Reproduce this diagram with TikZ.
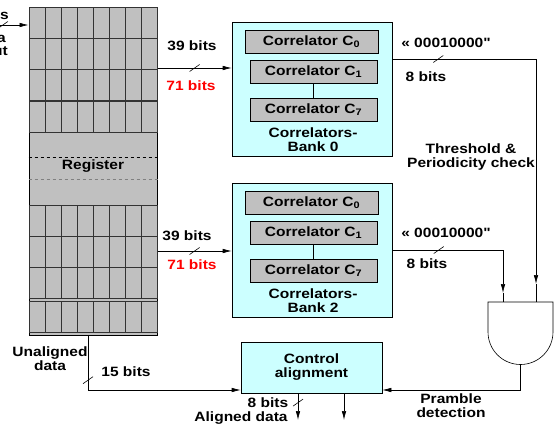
\documentclass[tikz,border=0pt]{standalone}
\usepackage{fontspec}
\setmainfont[FakeStretch=1.15]{Liberation Sans}
\newfontfamily\qfont[FakeStretch=1.15, Mapping=]{Liberation Sans}
\usetikzlibrary{arrows.meta}
\definecolor{cellgray}{HTML}{C0C0C0}
\definecolor{bankcyan}{HTML}{CCFFFF}
\tikzset{lbl/.style = {font=\bfseries\fontsize{13.5}{14}\selectfont, inner sep=0pt, align=center},
    rlbl/.style = {lbl, text=red},
    cell/.style = {draw=black!80, fill=cellgray, line width=0.9pt},
    bank/.style = {draw, fill=bankcyan, minimum width=160, minimum height=134, inner sep=0pt},
    corr/.style = {lbl, draw, fill=cellgray, minimum width=127, minimum height=23},
    bus/.pic = {\draw[-] (-5pt,-3.5pt) -- (5pt,3.5pt);}}

\begin{document}
\begin{tikzpicture}[x=1pt, y=-1pt, >={Latex[length=9pt,width=4.5pt]}, semithick]
        \useasboundingbox (0,0) rectangle (556,426);
        \node[draw, fill=cellgray, minimum width=128, minimum height=328, inner sep=0pt, line width=1pt] (reg) at (93,171) {};
        \foreach \y in {7,38,69,101,205,236,267,301}
            \foreach \i in {0,...,7} \draw[cell] (29+16*\i,\y) rectangle ++(16,31);
        \draw[dashed] (reg.west |- 0,157) -- (reg.east |- 0,157);
        \draw[dashed, gray] (reg.west |- 0,179) -- (reg.east |- 0,179);
        \node[lbl] (regl) at (93,166) {Register};

        \node[lbl, anchor=east] (ib) at (9,15) {bits};
        \node[lbl, anchor=east] (id) at (6,38) {Data};
        \node[lbl, anchor=east] (ii) at (8,52) {Input};
        \coordinate (src) at (0,25);
        \draw[->] (src) -- pic[pos=.1]{bus} (reg.west |- src);

        \foreach \n/\d in {0/0, 2/161} {
            \node[bank] (bank\n) at (312,89+\d) {};
            \node[corr, minimum width=133] (c\n0) at (311.5,41.5+\d) {Correlator C\textsubscript{0}};
            \node[corr] (c\n1) at (313.5,72+\d) {Correlator C\textsubscript{1}};
            \node[corr] (c\n7) at (313.5,109.5+\d) {Correlator C\textsubscript{7}};
            \draw (c\n1) -- (c\n7);
            \node[lbl] (bl\n) at (313,140+\d) {Correlators-\\Bank \n};
        }

        \draw[->] (reg.east |- 0,68) -- pic[pos=.5]{bus} (bank0.west |- 0,68);
        \draw[->] (reg.east |- 0,251) -- pic[pos=.5]{bus} (bank2.west |- 0,251);
        \node[lbl] (w0) at (192,46) {39 bits};
        \node[rlbl] (x0) at (191,86) {71 bits};
        \node[lbl] (w2) at (187,236) {39 bits};
        \node[rlbl] (x2) at (192,265) {71 bits};

        \coordinate (ga) at (503,302);
        \coordinate (gb) at (536,302);
        \coordinate (go) at (520.5,364);
        \draw[fill=white] (488,302) -- (488,332) arc[start angle=180, end angle=0, radius=32.5] -- (553,302) -- cycle;
        \draw[->] (bank0.east |- 0,59) -| pic[pos=.16]{bus} (gb |- 0,284);
        \draw (gb |- 0,284) -- (gb);
        \draw[->] (bank2.east |- 0,250) -| pic[pos=.21]{bus} (ga |- 0,293);
        \draw (ga |- 0,293) -- (ga);
        \node[lbl] (q0) at (446,43) {\qfont « 00010000"};
        \node[lbl] (n0) at (426,77) {8 bits};
        \node[lbl] (q2) at (446,233) {\qfont « 00010000"};
        \node[lbl] (n2) at (427,264) {8 bits};
        \node[lbl] (thr) at (471,157) {Threshold \&\\Periodicity check};

        \node[lbl, draw, fill=bankcyan, minimum width=141, minimum height=51] (ctrl) at (311.5,367.5) {Control\\alignment};
        \draw[->] (go) |- (ctrl.east |- 0,390);
        \node[lbl] (pd) at (451,405.5) {Pramble\\detection};
        \draw[->] (reg.south -| 88,0) |- pic[pos=.41]{bus} (ctrl.west |- 0,390);
        \node[lbl] (ud) at (50,359) {Unaligned\\data};
        \node[lbl] (b15) at (126,372) {15 bits};
        \coordinate (ad) at (298,420);
        \coordinate (ao) at (344,420);
        \draw[->] (ctrl.south -| ad) -- pic[pos=.35]{bus} (ad);
        \draw[->] (ctrl.south -| ao) -- (ao);
        \node[lbl] (b8) at (268,403) {8 bits};
        \node[lbl] (al) at (241,418) {Aligned data};
    \end{tikzpicture}
\end{document}
